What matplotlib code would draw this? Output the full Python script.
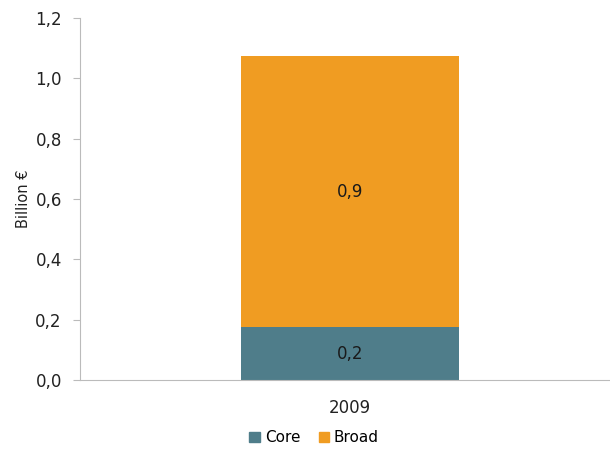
import matplotlib
matplotlib.use("Agg")
import matplotlib.pyplot as plt
from matplotlib.patches import Patch

categories = ["2009"]
core = [0.175]
broad = [0.9]
core_labels = ["0,2"]
broad_labels = ["0,9"]
yticks = [0.0, 0.2, 0.4, 0.6, 0.8, 1.0, 1.2]
ytick_labels = ["0,0", "0,2", "0,4", "0,6", "0,8", "1,0", "1,2"]

c_core = "#4F7D8A"
c_broad = "#F09C22"

plt.rcParams['font.family'] = ['DejaVu Sans']
fig = plt.figure(figsize=(6.10, 4.49), dpi=100)
ax = fig.add_axes([0.131, 0.1537, 0.869, 0.806])

x = list(range(len(categories)))
ax.bar(x, core, width=0.42, color=c_core, label="Core")
ax.bar(x, broad, bottom=core, width=0.42, color=c_broad, label="Broad")
for i in x:
    ax.text(i, core[i] / 2, core_labels[i], ha="center", va="center", fontsize=12, color="#1a1a1a")
    ax.text(i, core[i] + broad[i] / 2, broad_labels[i], ha="center", va="center", fontsize=12, color="#1a1a1a")

ax.set_xlim(-0.52, 0.5)
ax.set_ylim(0, 1.2)
ax.set_yticks(yticks)
ax.set_yticklabels(ytick_labels, fontsize=12, color="#222222")
ax.set_xticks(x)
ax.set_xticklabels(categories, fontsize=12, color="#222222")
ax.tick_params(axis="x", length=0, pad=14)
ax.tick_params(axis="y", length=5, color="#BBBBBB", pad=8)
ax.set_ylabel("Billion €", fontsize=10.5, color="#222222")
ax.yaxis.set_label_coords(-0.092, 0.5)
for s in ["top", "right"]:
    ax.spines[s].set_visible(False)
ax.spines["left"].set_color("#BBBBBB")
ax.spines["bottom"].set_color("#BBBBBB")

handles = [Patch(color=c_core, label="Core"), Patch(color=c_broad, label="Broad")]
fig.legend(handles=handles, loc="center", bbox_to_anchor=(0.515, 0.025), ncol=2, frameon=False,
           fontsize=11, handlelength=0.7, handleheight=0.7, handletextpad=0.3, columnspacing=1.2)

fig.savefig("out.png", dpi=100)
